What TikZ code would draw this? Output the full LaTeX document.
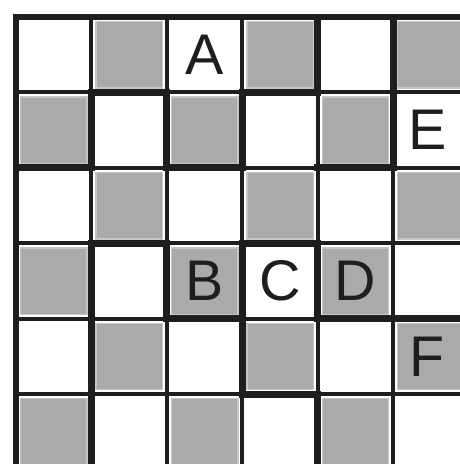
\documentclass[tikz,border=0pt]{standalone}
\usepackage{fontspec}
\setmainfont{Liberation Sans}
\definecolor{ink}{HTML}{1E1E1E}
\definecolor{cellgray}{HTML}{AAAAAA}
\definecolor{cellrim}{HTML}{C6C6C6}
\begin{document}
\begin{tikzpicture}[x=0.75pt,y=-0.75pt,
  gridline/.style={draw=ink,line width=3pt,line cap=rect},
  thickline/.style={draw=ink,line width=5.2pt,line cap=rect},
  graycell/.style={fill=cellgray,draw=cellrim,line width=1.1pt},
  letter/.style={font=\fontsize{43}{43}\selectfont,text=ink,inner sep=0pt,anchor=center}]
\useasboundingbox (0,0) rectangle (460,464);
\fill[white] (0,0) rectangle (460,464);
\clip (0,0) rectangle (460,464);
\def\p{75.45}
\def\xo{16}
\def\yo{17}
% gray cells (checkerboard)
\foreach \r in {0,...,5}{
  \foreach \c in {0,...,5}{
    \pgfmathtruncatemacro\oddq{mod(\r+\c,2)}
    \ifnum\oddq=1
      \draw[graycell] ({\xo+\c*\p+4.5},{\yo+\r*\p+4.5}) rectangle ({\xo+\c*\p+\p-4.5},{\yo+\r*\p+\p-4.5});
    \fi
  }
}
% thin grid lines
\foreach \k in {0,...,6}{
  \draw[gridline] ({\xo+\k*\p},{\yo}) -- ({\xo+\k*\p},{\yo+6*\p});
  \draw[gridline] ({\xo},{\yo+\k*\p}) -- ({\xo+6*\p},{\yo+\k*\p});
}
% outer border (left and top)
\draw[thickline] ({\xo},{\yo+6*\p}) -- ({\xo},{\yo}) -- ({\xo+6*\p},{\yo});
% thick horizontal segments: row boundary i, column c
\foreach \i/\c in {1/1,1/3,2/0,2/2,2/4,3/1,3/3,4/2,4/4,4/5,5/3}{
  \draw[thickline] ({\xo+\c*\p},{\yo+\i*\p}) -- ({\xo+(\c+1)*\p},{\yo+\i*\p});
}
% thick vertical segments: column boundary j, row r
\foreach \j/\r in {1/1,1/3,1/4,1/5,2/1,2/3,3/1,3/3,3/4,4/0,4/3,4/5,5/0,5/1}{
  \draw[thickline] ({\xo+\j*\p},{\yo+\r*\p}) -- ({\xo+\j*\p},{\yo+(\r+1)*\p});
}
% letters
\node[letter] (A) at ({\xo+2.5*\p},{\yo+0.5*\p}) {A};
\node[letter] (E) at ({\xo+5.45*\p},{\yo+1.5*\p}) {E};
\node[letter] (B) at ({\xo+2.5*\p},{\yo+3.5*\p}) {B};
\node[letter] (C) at ({\xo+3.5*\p},{\yo+3.5*\p}) {C};
\node[letter] (D) at ({\xo+4.5*\p},{\yo+3.5*\p}) {D};
\node[letter] (F) at ({\xo+5.45*\p},{\yo+4.5*\p}) {F};
\end{tikzpicture}
\end{document}
